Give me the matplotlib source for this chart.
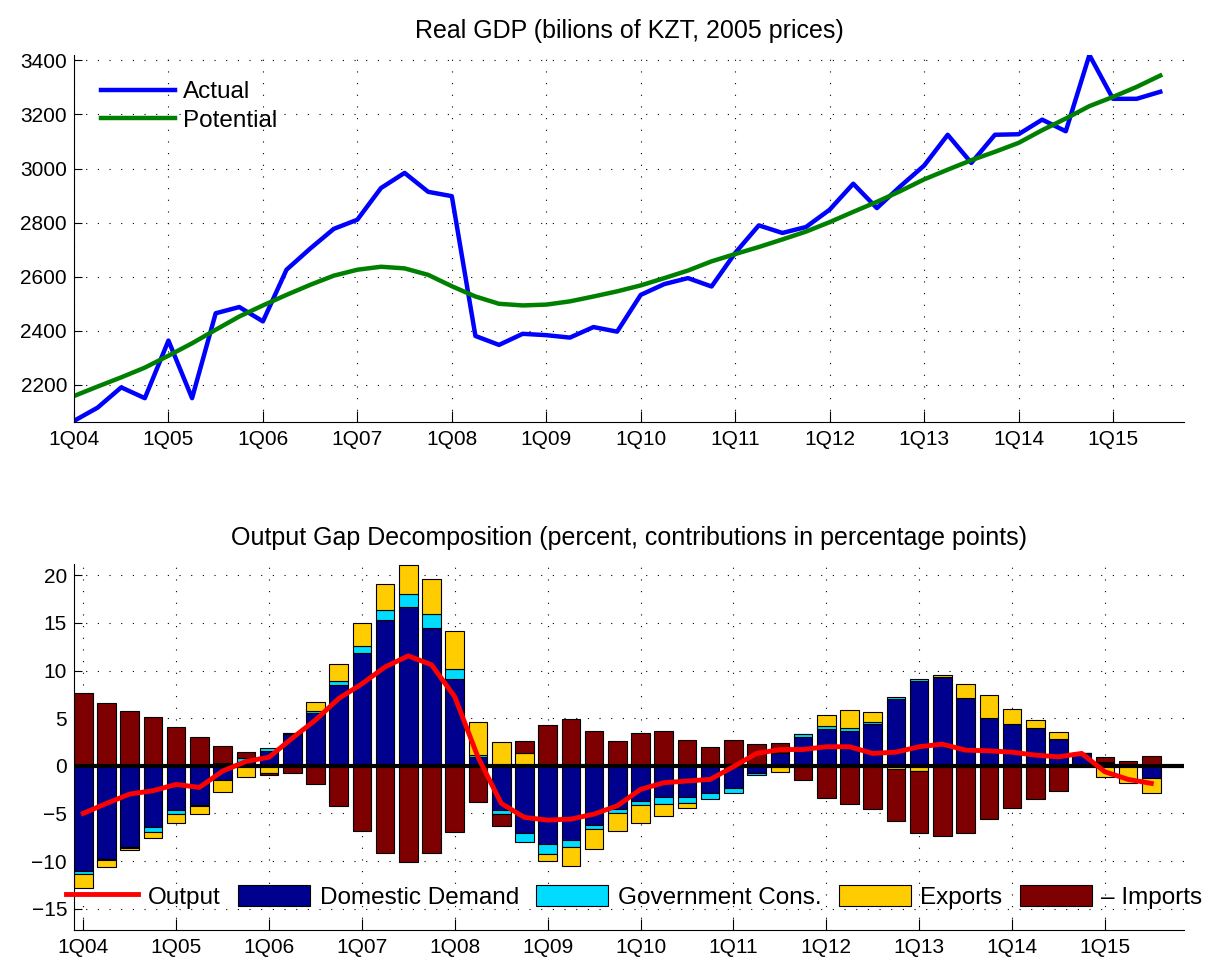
import numpy as np
import matplotlib
matplotlib.use("Agg")
import matplotlib.pyplot as plt
from matplotlib.lines import Line2D

plt.rcParams['font.family'] = ['Liberation Sans', 'DejaVu Sans']
plt.rcParams['font.size'] = 15

# --- data (1Q04 .. 3Q15) ---
tick_labels = ['1Q04', '1Q05', '1Q06', '1Q07', '1Q08', '1Q09', '1Q10',
               '1Q11', '1Q12', '1Q13', '1Q14', '1Q15']
tick_pos = [0, 4, 8, 12, 16, 20, 24, 28, 32, 36, 40, 44]

actual = [2067, 2116, 2191, 2151, 2364, 2151, 2465, 2488, 2435, 2626, 2704, 2777,
          2811, 2928, 2984, 2914, 2898, 2381, 2348, 2389, 2384, 2375, 2414, 2397,
          2533, 2573, 2595, 2564, 2688, 2790, 2762, 2784, 2848, 2944, 2854, 2935,
          3011, 3125, 3021, 3125, 3127, 3181, 3138, 3420, 3258, 3258, 3284]
potential = [2159, 2194, 2228, 2264, 2308, 2354, 2404, 2453, 2494, 2533, 2570, 2604,
             2626, 2637, 2631, 2607, 2565, 2527, 2500, 2494, 2497, 2509, 2527, 2546,
             2568, 2595, 2623, 2657, 2684, 2710, 2738, 2767, 2802, 2840, 2877, 2917,
             2960, 2996, 3031, 3062, 3095, 3142, 3185, 3231, 3265, 3302, 3344]

output_gap = [-5.0, -3.95, -2.97, -2.62, -1.96, -2.27, -0.56, 0.45, 0.9, 2.9, 4.8, 7.06,
              8.6, 10.38, 11.54, 10.6, 7.24, 0.9, -3.95, -5.42, -5.7, -5.6, -5.07, -4.2,
              -2.48, -1.78, -1.6, -1.43, -0.1, 1.3, 1.7, 1.71, 2.0, 2.0, 1.3, 1.43,
              2.0, 2.27, 1.64, 1.57, 1.43, 1.12, 0.94, 1.3, -0.63, -1.43, -1.85]
domestic = [-11.0, -9.8, -8.5, -6.47, -4.65, -4.15, -1.5, 0.42, 1.54, 3.29, 5.56, 8.53,
            11.89, 15.28, 16.68, 14.5, 9.1, 0.88, -4.65, -7.03, -8.22, -7.8, -6.22, -4.58,
            -3.67, -3.32, -3.25, -2.9, -2.37, -0.8, 1.3, 3.04, 3.81, 3.6, 4.4, 7.0,
            8.88, 9.34, 7.1, 5.0, 4.37, 3.92, 2.8, 1.3, 0.3, 0.1, -1.3]
government = [-0.36, -0.1, -0.12, -0.52, -0.45, -0.1, 0.25, 0.35, 0.35, 0.15, 0.2, 0.42,
              0.73, 1.12, 1.4, 1.47, 1.08, 0.21, -0.42, -0.94, -1.05, -0.73, -0.38, -0.35,
              -0.49, -0.7, -0.63, -0.63, -0.45, -0.15, 0.0, 0.25, 0.35, 0.38, 0.2, 0.24,
              0.18, -0.1, -0.15, -0.1, 0.0, 0.0, 0.05, 0.0, 0.1, 0.1, 0.0]
exports = [-1.45, -0.75, -0.2, -0.62, -0.95, -0.85, -1.3, -1.2, -0.78, 0.0, 0.9, 1.78,
           2.38, 2.69, 3.0, 3.6, 4.0, 3.5, 2.49, 1.3, -0.73, -1.96, -2.1, -1.92,
           -1.85, -1.3, -0.52, 0.15, 0.2, 0.0, -0.63, 0.0, 1.22, 1.88, 1.05, -0.35,
           -0.56, 0.15, 1.47, 2.41, 1.57, 0.84, 0.73, 0.0, -1.15, -1.78, -1.6]
imports = [7.69, 6.6, 5.73, 5.07, 4.09, 2.97, 1.85, 0.67, -0.15, -0.73, -1.96, -4.23,
           -6.85, -9.13, -10.07, -9.2, -6.96, -3.85, -1.22, 1.29, 4.27, 4.86, 3.6, 2.59,
           3.46, 3.64, 2.69, 1.85, 2.5, 2.24, 1.12, -1.5, -3.43, -4.02, -4.5, -5.42,
           -6.54, -7.28, -6.88, -5.53, -4.4, -3.53, -2.66, 0.0, 0.5, 0.3, 1.05]

components = [
    ('Domestic Demand', domestic, '#00008f'),
    ('Government Cons.', government, '#00dcff'),
    ('Exports', exports, '#ffcc00'),
    ('\u2013 Imports', imports, '#7f0000'),
]

GRID = dict(color='k', linestyle=(0, (1, 9.5)), linewidth=0.8)
TITLE_SIZE = 18
LEGEND_SIZE = 17.5


def style_axes(ax):
    ax.spines['top'].set_visible(False)
    ax.spines['right'].set_visible(False)
    ax.set_xticks(tick_pos)
    ax.set_xticklabels(tick_labels)
    ax.tick_params(axis='x', direction='in', length=8, width=0.8, pad=6)
    ax.tick_params(axis='y', direction='in', length=6, width=0.8, pad=5)
    ax.grid(True, **GRID)
    ax.set_axisbelow(True)


fig = plt.figure(figsize=(12.09, 9.65), dpi=100)

# --- top panel: real GDP ---
x = np.arange(len(actual))
ax1 = fig.add_axes([0.0612, 0.563, 0.918, 0.380])
ax1.plot(x, actual, color='#0000ff', lw=3.2, label='Actual')
ax1.plot(x, potential, color='#008000', lw=3.2, label='Potential')
ax1.set_xlim(0, 47)
ax1.set_ylim(min(actual) - 3, max(actual))
ax1.set_yticks(range(2200, 3401, 200))
style_axes(ax1)
ax1.set_title('Real GDP (bilions of KZT, 2005 prices)', fontsize=TITLE_SIZE, pad=12)
ax1.legend(loc='upper left', bbox_to_anchor=(0.0153, 0.955), borderaxespad=0,
           frameon=False, handlelength=3.05, handletextpad=0.33,
           labelspacing=0.27, fontsize=LEGEND_SIZE)

# --- bottom panel: output gap decomposition ---
ax2 = fig.add_axes([0.0612, 0.0363, 0.918, 0.379])
pos_base = np.zeros(len(x))
neg_base = np.zeros(len(x))
handles = [Line2D([], [], color='#ff0000', lw=3.5)]
labels = ['Output']
for name, vals, col in components:
    v = np.array(vals)
    bottom = np.where(v >= 0, pos_base, neg_base)
    bars = ax2.bar(x, v, width=0.8, bottom=bottom, color=col,
                   edgecolor='k', linewidth=0.8, zorder=2)
    pos_base = pos_base + np.where(v >= 0, v, 0)
    neg_base = neg_base + np.where(v < 0, v, 0)
    handles.append(bars)
    labels.append(name)

ax2.axhline(0, color='k', lw=3, zorder=3)
ax2.plot(x, output_gap, color='#ff0000', lw=3.5, zorder=4)
ax2.set_xlim(-0.4, 47.4)
ax2.set_ylim(-17.24, 21.16)
ax2.set_yticks(range(-15, 21, 5))
style_axes(ax2)
ax2.set_title('Output Gap Decomposition (percent, contributions in percentage points)',
              fontsize=TITLE_SIZE, pad=14)
ax2.legend(handles, labels, loc='center', bbox_to_anchor=(0.5248, 0.0705),
           bbox_transform=fig.transFigure, ncol=5, frameon=False,
           handlelength=2.95, handleheight=0.93, columnspacing=0.72,
           handletextpad=0.4, fontsize=LEGEND_SIZE)

plt.savefig('out.png', dpi=100)
